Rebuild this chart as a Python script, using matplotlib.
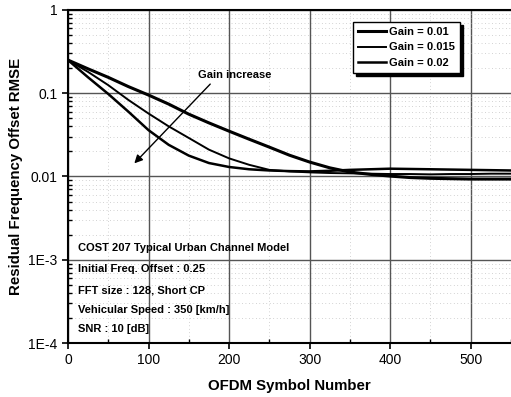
import matplotlib
matplotlib.use("Agg")
import matplotlib.pyplot as plt
from matplotlib.ticker import LogLocator, FixedLocator, NullFormatter

plt.rcParams['font.family'] = ['Liberation Sans', 'DejaVu Sans']

x = [0, 25, 50, 75, 100, 125, 150, 175, 200, 225, 250, 275, 300, 325, 350,
     375, 400, 425, 450, 475, 500, 525, 550]
gain_001 = [0.25, 0.196, 0.155, 0.12, 0.095, 0.074, 0.056, 0.044, 0.035, 0.028,
            0.0225, 0.018, 0.0149, 0.0127, 0.0113, 0.0106, 0.0101, 0.0097,
            0.0095, 0.0094, 0.0093, 0.0093, 0.0093]
gain_0015 = [0.25, 0.18, 0.125, 0.083, 0.057, 0.04, 0.029, 0.021, 0.0165, 0.0138,
             0.012, 0.0115, 0.0112, 0.011, 0.0109, 0.0108, 0.0107, 0.0107,
             0.0106, 0.0107, 0.0107, 0.0108, 0.0108]
gain_002 = [0.25, 0.155, 0.098, 0.06, 0.036, 0.024, 0.0178, 0.0145, 0.013, 0.0122,
            0.0118, 0.0116, 0.0115, 0.0117, 0.012, 0.0122, 0.0124, 0.0123,
            0.0122, 0.0121, 0.012, 0.0119, 0.0118]
labels = ['Gain = 0.01', 'Gain = 0.015', 'Gain = 0.02']
xticks = [0, 100, 200, 300, 400, 500]
yticks = [1e-4, 1e-3, 1e-2, 1e-1, 1]
ytick_labels = ['1E-4', '1E-3', '0.01', '0.1', '1']
info = ['COST 207 Typical Urban Channel Model',
        'Initial Freq. Offset : 0.25',
        'FFT size : 128, Short CP',
        'Vehicular Speed : 350 [km/h]',
        'SNR : 10 [dB]']
info_y = [1.38e-3, 7.75e-4, 4.22e-4, 2.49e-4, 1.47e-4]

fig = plt.figure(figsize=(5.11, 3.97), dpi=100)
ax = fig.add_axes([0.133, 0.136, 0.867, 0.839])
ax.set_yscale('log')
ax.set_xlim(0, 550)
ax.set_ylim(1e-4, 1)

ax.plot(x, gain_001, color='black', lw=2.2, label=labels[0])
ax.plot(x, gain_0015, color='black', lw=1.4, label=labels[1])
ax.plot(x, gain_002, color='black', lw=1.8, label=labels[2])

ax.set_xticks(xticks)
ax.xaxis.set_minor_locator(FixedLocator([50, 150, 250, 350, 450, 550]))
ax.set_yticks(yticks)
ax.set_yticklabels(ytick_labels)
ax.yaxis.set_minor_locator(LogLocator(base=10, subs=range(2, 10)))
ax.yaxis.set_minor_formatter(NullFormatter())

ax.grid(True, which='major', color='#555555', lw=1.0, ls='-')
ax.grid(True, which='minor', color='#aaaaaa', lw=0.5, ls=(0, (1, 4)))
ax.set_axisbelow(True)

ax.tick_params(which='major', direction='out', length=4, width=1.2, labelsize=10)
ax.tick_params(which='minor', direction='in', length=3, width=1)
for s in ['left', 'bottom', 'top']:
    ax.spines[s].set_linewidth(1.5)
ax.spines['right'].set_visible(False)

ax.set_xlabel('OFDM Symbol Number', fontsize=10.8, fontweight='bold', labelpad=8)
ax.set_ylabel('Residual Frequency Offset RMSE', fontsize=10.8, fontweight='bold', labelpad=4)

for t, yy in zip(info, info_y):
    ax.text(12, yy, t, fontsize=8, fontweight='bold', va='center', ha='left')

ax.annotate('', xy=(80, 0.0136), xytext=(179, 0.136),
            arrowprops=dict(arrowstyle='-|>', color='black', lw=1.0, mutation_scale=12))
ax.text(207, 0.165, 'Gain increase', fontsize=8, fontweight='bold', ha='center', va='center')

leg = ax.legend(loc='upper left', bbox_to_anchor=(0.691, 0.945), bbox_transform=fig.transFigure,
                borderaxespad=0.0,
                fancybox=False, edgecolor='black', framealpha=1,
                prop={'weight': 'bold', 'size': 8.0}, handlelength=2.5, handletextpad=0.3,
                labelspacing=0.5, borderpad=0.45,
                shadow={'color': 'black', 'alpha': 1.0})
leg.get_frame().set_linewidth(1.0)

fig.savefig('out.png', dpi=100)
